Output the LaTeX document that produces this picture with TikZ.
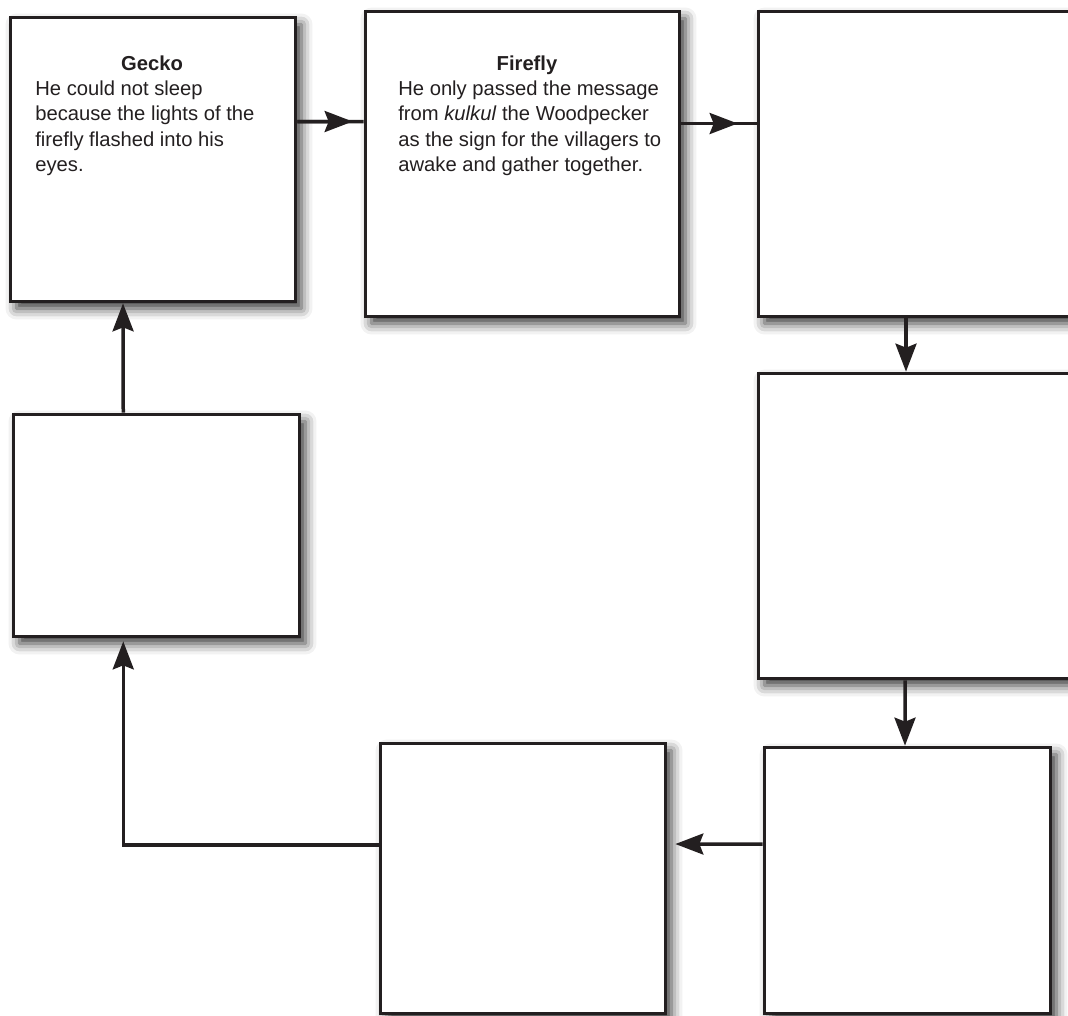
\documentclass[tikz,border=0pt]{standalone}
\usepackage{fontspec}
\setmainfont{Liberation Sans}
\usetikzlibrary{arrows.meta,shadows.blur}
\definecolor{ink}{HTML}{231F20}

\begin{document}
\begin{tikzpicture}[x=0.02cm, y=-0.02cm,
    box/.style={draw=ink, line width=0.075cm, fill=white, rectangle, inner sep=0pt,
      blur shadow={shadow xshift=0.12cm, shadow yshift=-0.14cm, shadow blur radius=0.22cm, shadow opacity=80}},
    line/.style={draw=ink, line width=0.07cm},
    flow/.style={line, -{Stealth[length=0.56cm, width=0.42cm, inset=0.08cm]}},
    gapflow/.style={line, postaction={draw=ink, line width=0.07cm, -{Stealth[length=0.56cm, width=0.42cm, inset=0.08cm]}, shorten >=#1}},
    head/.style={anchor=base, inner sep=0pt, text=ink, font=\fontsize{11.5}{14.2}\selectfont\bfseries},
    txt/.style={anchor=north west, inner sep=0pt, align=left, text=ink, font=\fontsize{11.5}{14.6}\selectfont}]
    \clip (0,0) rectangle (1068,1015);

    \node[box, minimum width=5.70cm, minimum height=5.68cm] at (153,159.5) (1) {};
    \node[box, minimum width=6.28cm, minimum height=6.10cm] at (522.5,164) (2) {};
    \node[box, minimum width=6.43cm, minimum height=6.10cm] at (919.25,164) (3) {};
    \node[box, minimum width=6.43cm, minimum height=6.10cm] at (919.25,526) (4) {};
    \node[box, minimum width=5.72cm, minimum height=5.32cm] at (907.5,880.5) (5) {};
    \node[box, minimum width=5.70cm, minimum height=5.40cm] at (523,878.5) (6) {};
    \node[box, minimum width=5.72cm, minimum height=4.44cm] at (156.5,525.5) (7) {};

    % story texts
    \node[head] at (152,70) (h1) {Gecko};
    \node[txt] at (35,80) (t1) {He could not sleep\\because the lights of the\\firefly flashed into his\\eyes.};
    \node[head] at (527,70) (h2) {Firefly};
    \node[txt] at (398,80) (t2) {He only passed the message\\from \textit{kulkul} the Woodpecker\\as the sign for the villagers to\\awake and gather together.};

    \draw[gapflow=0.22cm] ([yshift=0.76cm]1.east) -- ([yshift=0.85cm]2.west);
    \draw[gapflow=0.38cm] ([yshift=0.81cm]2.east) -- ([yshift=0.81cm]3.west);
    \draw[flow] ([xshift=-0.265cm]3.south) -- ([xshift=-0.265cm]4.north);
    \draw[flow] ([xshift=-0.285cm]4.south) -- ([xshift=-0.05cm]5.north);
    \draw[flow, shorten >=0.16cm] ([yshift=0.73cm]5.west) -- ([yshift=0.69cm]6.east);
    \draw[flow, shorten >=0.06cm] ([yshift=0.67cm]6.west) -| ([xshift=-0.665cm]7.south);
    \draw[flow] ([xshift=-0.665cm]7.north) -- ([xshift=-0.6cm]1.south);
  \end{tikzpicture}
\end{document}
